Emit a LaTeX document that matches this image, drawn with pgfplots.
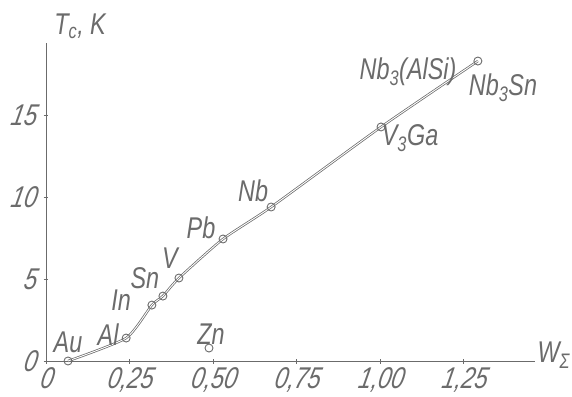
\documentclass[border=0pt]{standalone}
\usepackage{fontspec}
\setmainfont{Liberation Sans}[FakeStretch=0.78]
\newfontfamily\slfont{Liberation Sans}[FakeStretch=0.78, FakeSlant=0.2]
\usepackage{pgfplots}
\pgfplotsset{compat=1.18}
\definecolor{ink}{gray}{0.42}
\newcommand{\hf}{\fontsize{30}{32}\selectfont\itshape}
\newcommand{\tl}[1]{\mbox{\fontsize{30}{32}\slfont #1}}
\tikzset{lab/.style={text=ink, font=\hf}}
\begin{document}
\begin{tikzpicture}
\useasboundingbox (0,0) rectangle (572pt,396pt);
\begin{axis}[
  at={(46pt,35pt)}, anchor=south west,
  scale only axis, width=489pt, height=318pt,
  xmin=0, xmax=1.464, ymin=0, ymax=19.39,
  axis lines=left, axis line style={-, draw=ink, line width=0.7pt},
  clip=false,
  xtick={0,0.25,0.5,0.75,1.0,1.25},
  xticklabels={{\tl{0}},{\tl{0,25}},{\tl{0,50}},{\tl{0,75}},{\tl{1,00}},{\tl{1,25}}},
  ytick={0,5,10,15},
  yticklabels={{\tl{0}},{\tl{5}},{\tl{10}},{\tl{15}}},
  tick align=center, major tick length=5pt,
  tick style={draw=ink, line width=0.6pt},
  font=\hf,
  tick label style={text=ink},
  xticklabel style={yshift=-1pt},
  yticklabel style={xshift=-4pt},
]
\addplot[draw=ink, line width=2.4pt, smooth, tension=0.35,
  postaction={draw=white, line width=0.9pt}] coordinates {
  (0.066,0) (0.240,1.40) (0.317,3.41) (0.350,3.96) (0.398,5.06)
  (0.530,7.44) (0.674,9.39) (1.003,14.27) (1.293,18.29)};
\addplot[only marks, mark=o, mark size=4pt, mark options={draw=ink, fill=white, line width=0.9pt}] coordinates {
  (0.066,0) (0.240,1.40) (0.317,3.41) (0.350,3.96) (0.398,5.06)
  (0.530,7.44) (0.674,9.39) (1.003,14.27) (1.293,18.29) (0.488,0.79)};
\node[lab] at (axis cs:0.066,1.16) {Au};
\node[lab] at (axis cs:0.186,1.59) {Al};
\node[lab] at (axis cs:0.225,3.72) {In};
\node[lab] at (axis cs:0.296,5.06) {Sn};
\node[lab] at (axis cs:0.371,6.28) {V};
\node[lab] at (axis cs:0.464,8.11) {Pb};
\node[lab] at (axis cs:0.620,10.37) {Nb};
\node[lab] at (axis cs:1.090,13.60) {V\textsubscript{3}Ga};
\node[lab] at (axis cs:1.368,16.65) {Nb\textsubscript{3}Sn};
\node[lab] at (axis cs:1.084,17.62) {Nb\textsubscript{3}(AlSi)};
\node[lab] at (axis cs:0.494,1.65) {Zn};
\node[lab] at (axis cs:0.102,20.43) {T\textsubscript{c}, K};
\node[lab] at (axis cs:1.520,0.37) {W\textsubscript{Σ}};
\end{axis}
\end{tikzpicture}
\end{document}
